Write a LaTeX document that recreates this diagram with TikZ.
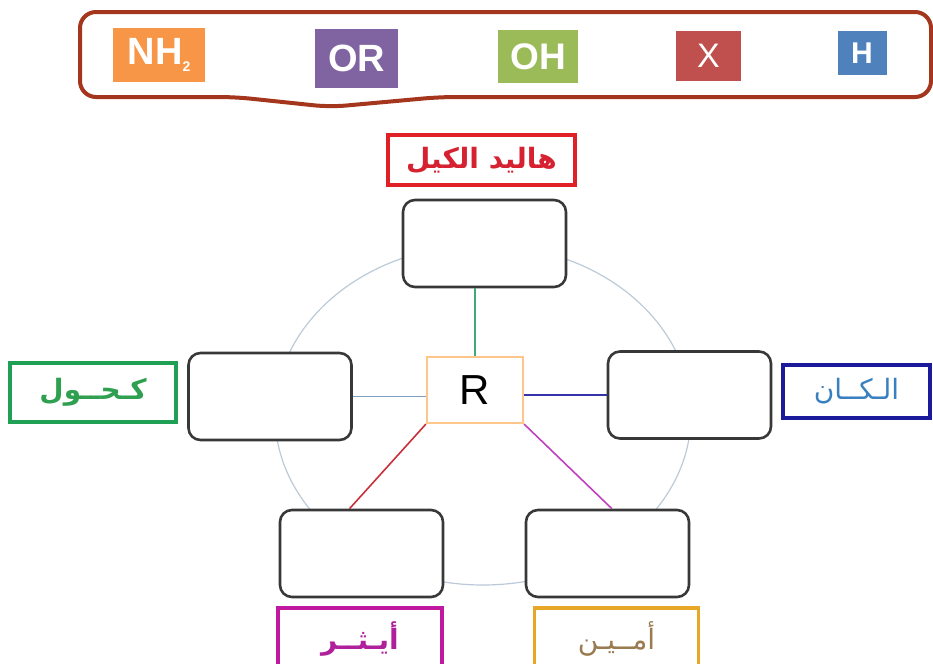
\documentclass[tikz,border=0pt]{standalone}
\usepackage{fontspec}
\setmainfont{Liberation Sans}
\newfontfamily\arabicfont[Script=Arabic]{DejaVu Sans}
\TeXXeTstate=1

\definecolor{frame}{HTML}{A3361C}
\definecolor{nhcol}{HTML}{F79646}
\definecolor{orcol}{HTML}{8064A2}
\definecolor{ohcol}{HTML}{9BBB59}
\definecolor{xcol}{HTML}{C0504D}
\definecolor{hcol}{HTML}{4F81BD}
\definecolor{ringcol}{HTML}{BCCAD8}
\definecolor{redtag}{HTML}{E02027}
\definecolor{redtxt}{HTML}{D62230}
\definecolor{greentag}{HTML}{1FA055}
\definecolor{greentxt}{HTML}{2EA050}
\definecolor{bluetag}{HTML}{1A1A9A}
\definecolor{bluetxt}{HTML}{3A80C0}
\definecolor{magtag}{HTML}{C0189E}
\definecolor{magtxt}{HTML}{B0209A}
\definecolor{goldtag}{HTML}{E8A726}
\definecolor{goldtxt}{HTML}{9A7B50}
\definecolor{greenlink}{HTML}{3DAA78}
\definecolor{greylink}{HTML}{7F9FC0}
\definecolor{bluelink}{HTML}{3333AA}
\definecolor{redlink}{HTML}{C8303A}
\definecolor{maglink}{HTML}{C040C0}

\begin{document}
\begin{tikzpicture}[x=0.5pt,y=-0.5pt]

    \tikzset{
      tile/.style = { rectangle, inner sep=0pt, text=white,
                      font = \bfseries },
      slot/.style = { rectangle, rounded corners=6pt, draw=black!78,
                      line width=1.3pt, fill=white,
                      minimum width=81.5pt, minimum height=43.5pt },
      tag/.style = { rectangle, line width=1.8pt, fill=white, inner sep=0pt,
                     font = \arabicfont\bfseries\fontsize{14}{16}\selectfont },
      thintag/.style = { tag, font = \arabicfont\fontsize{14}{16}\selectfont },
      link/.style = { line width=0.8pt } }

      \useasboundingbox (0,0) rectangle (933,664);

      \draw[frame, line width=2pt, rounded corners=8pt]
        (80,12) -- (931,12) -- (931,97) -- (440,97) -- (330,107)
        -- (235,97) -- (80,97) -- cycle;

      \node[tile, fill=nhcol, minimum width=46pt, minimum height=27pt,
            font=\bfseries\fontsize{19}{20}\selectfont] (nh) at (159,55) {NH\raisebox{-0.35ex}{\fontsize{7}{8}\selectfont 2}};
      \node[tile, fill=orcol, minimum width=41.5pt, minimum height=29.5pt,
            font=\bfseries\fontsize{19}{20}\selectfont] (or) at (356.5,58.5) {OR};
      \node[tile, fill=ohcol, minimum width=40pt, minimum height=26.5pt,
            font=\bfseries\fontsize{18.5}{20}\selectfont] (oh) at (538,56.5) {OH};
      \node[tile, fill=xcol, minimum width=32.5pt, minimum height=25pt,
            font=\fontsize{17}{18}\selectfont] (x) at (708.5,56) {X};
      \node[tile, fill=hcol, minimum width=24.5pt, minimum height=22pt,
            font=\bfseries\fontsize{15}{16}\selectfont] (h) at (862,53) {H};

      \draw[ringcol, line width=0.6pt] (483,415) ellipse [x radius=104pt, y radius=85pt];

      \node[draw=orange!45, line width=1.1pt, fill=white, minimum width=48pt,
            minimum height=33pt, font=\fontsize{21}{22}\selectfont] (R) at (475,390) {R};

      \node[slot] (top) at (484.5,243.5) {};
      \node[slot] (lbox) at (270,396.5) {};
      \node[slot] (rbox) at (689.5,395) {};
      \node[slot] (blbox) at (361.5,553.5) {};
      \node[slot] (brbox) at (607.5,553.5) {};

      \node[tag, draw=redtag, text=redtxt, minimum width=93.5pt,
            minimum height=25pt] (halide) at (481.5,160) {\beginR هاليد الكيل\endR};
      \node[tag, draw=greentag, text=greentxt, minimum width=83pt,
            minimum height=29.5pt] (alcohol) at (93,392.5) {\beginR كـحــول\endR};
      \node[thintag, draw=bluetag, text=bluetxt, minimum width=73.5pt,
            minimum height=26.5pt] (alkane) at (856.5,391.5) {\beginR الـكــان\endR};
      \node[tag, draw=magtag, text=magtxt, minimum width=82pt,
            minimum height=31pt] (ether) at (360,639) {\beginR أيـثــر\endR};
      \node[thintag, draw=goldtag, text=goldtxt, minimum width=82pt,
            minimum height=31pt] (amine) at (616.5,639) {\beginR أمــيـن\endR};

      \draw[link, greenlink] (R.north) -- (R.north |- top.south);
      \draw[link, greylink] (R.west |- lbox.east) -- (lbox.east);
      \draw[link, bluelink] (R.east |- rbox.west) -- (rbox.west);
      \draw[link, redlink] (R.south west) -- ([xshift=-6pt]blbox.north);
      \draw[link, maglink] (R.south east) -- ([xshift=2.2pt]brbox.north);

    \end{tikzpicture}
\end{document}
